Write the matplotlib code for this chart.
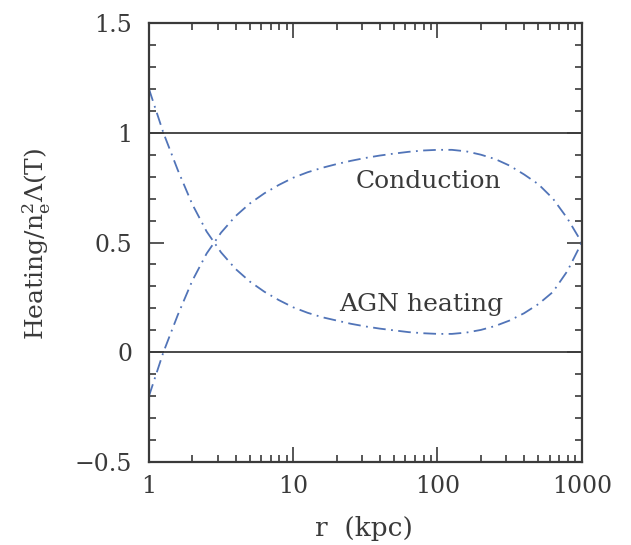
import matplotlib
matplotlib.use("Agg")
import matplotlib.pyplot as plt
from matplotlib.ticker import FixedLocator, NullFormatter

matplotlib.rcParams.update({'font.family': 'DejaVu Serif',
                            'mathtext.fontset': 'dejavuserif'})

# radius (kpc), sampled every 0.1 dex
r_kpc = [1.0, 1.259, 1.585, 1.995, 2.512, 3.162, 3.981, 5.012, 6.310, 7.943,
         10.0, 12.59, 15.85, 19.95, 25.12, 31.62, 39.81, 50.12, 63.10, 79.43,
         100.0, 125.9, 158.5, 199.5, 251.2, 316.2, 398.1, 501.2, 631.0, 794.3,
         1000.0]
# heating rates normalised to n_e^2 Lambda(T)
agn_heating = [1.2, 1.0, 0.83, 0.675, 0.55, 0.455, 0.38, 0.322, 0.276, 0.238,
               0.205, 0.18, 0.16, 0.145, 0.13, 0.118, 0.108, 0.1, 0.092, 0.087,
               0.084, 0.084, 0.09, 0.102, 0.12, 0.145, 0.178, 0.22, 0.275, 0.37,
               0.5]
conduction = [-0.2, 0.0, 0.17, 0.325, 0.45, 0.545, 0.62, 0.678, 0.724, 0.762,
              0.795, 0.82, 0.84, 0.857, 0.872, 0.885, 0.896, 0.905, 0.913, 0.919,
              0.922, 0.922, 0.915, 0.9, 0.88, 0.85, 0.81, 0.765, 0.7, 0.61,
              0.5]
ref_levels = [0, 1]

ink = '#3a3a3a'
blue = '#5174b8'

fig = plt.figure(figsize=(6.31, 5.45), dpi=100)
ax = fig.add_axes([0.236, 0.152, 0.686, 0.806])

for lev in ref_levels:
    ax.axhline(lev, color=ink, lw=1.3)

for vals in (agn_heating, conduction):
    ln, = ax.plot(r_kpc, vals, color=blue, lw=1.3)
    ln.set_dashes((7, 3, 1, 3))

ax.set_xscale('log')
ax.set_xlim(1, 1000)
ax.set_ylim(-0.5, 1.5)

ax.xaxis.set_major_locator(FixedLocator([1, 10, 100, 1000]))
ax.set_xticklabels(['1', '10', '100', '1000'])
ax.xaxis.set_minor_locator(FixedLocator(
    [m * d for d in (1, 10, 100) for m in range(2, 10)]))
ax.xaxis.set_minor_formatter(NullFormatter())
ax.set_yticks([-0.5, 0, 0.5, 1, 1.5])
ax.set_yticklabels(['\u22120.5', '0', '0.5', '1', '1.5'])
ax.set_yticks([i / 10 for i in range(-5, 16)], minor=True)

ax.tick_params(which='both', direction='in', top=True, right=True,
               color=ink, width=1.2, labelsize=17, labelcolor=ink)
ax.tick_params(which='major', length=11)
ax.tick_params(which='minor', length=5)
ax.tick_params(axis='y', pad=12)
ax.tick_params(axis='x', pad=9)
for s in ax.spines.values():
    s.set_color(ink)
    s.set_linewidth(1.6)

ax.text(86, 0.748, 'Conduction', ha='center', va='baseline',
        fontsize=18, color=ink)
ax.text(77, 0.188, 'AGN heating', ha='center', va='baseline',
        fontsize=18, color=ink)

fig.text(0.576, 0.031, 'r  (kpc)', ha='center', va='center',
         fontsize=19, color=ink)
fig.text(0.059, 0.552, r'Heating/n$_{\rm e}^2\Lambda$(T)', ha='center',
         va='center', rotation=90, fontsize=18, color=ink)

fig.savefig('out.png', dpi=100)
